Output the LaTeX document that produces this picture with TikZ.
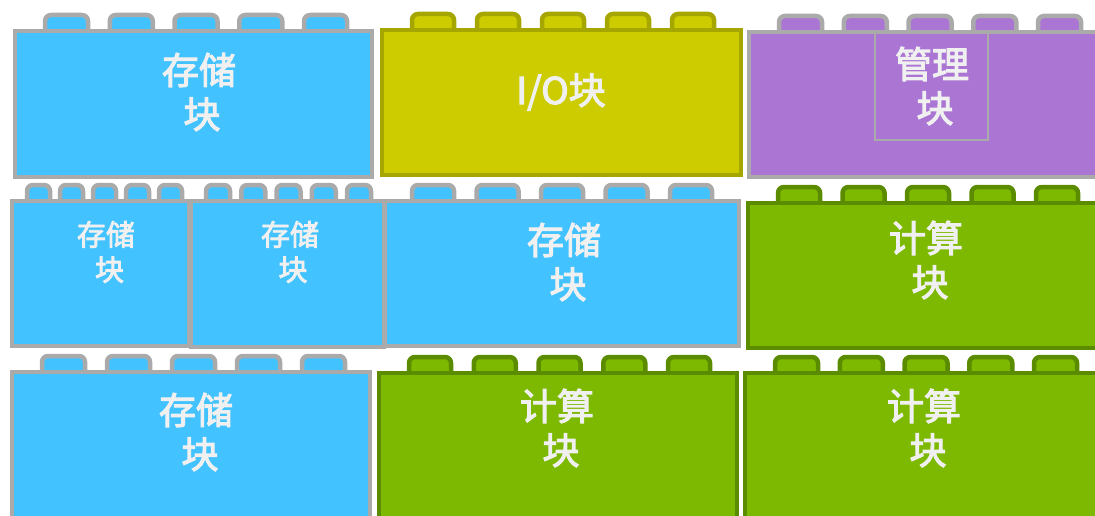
\documentclass[tikz,border=0pt]{standalone}
\usepackage{fontspec}
\setmainfont{Noto Sans CJK SC}
\newfontfamily\lblfont[FakeBold=3]{Noto Sans CJK SC}
\definecolor{sblue}{HTML}{42C3FF}
\definecolor{sgray}{HTML}{AAAAAA}
\definecolor{yfill}{HTML}{CCCC00}
\definecolor{yborder}{HTML}{A6A600}
\definecolor{pfill}{HTML}{AB75D4}
\definecolor{gfill}{HTML}{7DB900}
\definecolor{gborder}{HTML}{5B8C00}
\definecolor{txtc}{HTML}{F0F0F0}
\newcommand\brick[9]{%
  \foreach \i in {0,...,4} {%
    \pgfmathsetmacro\sx{#5+\i*#6}%
    \draw[line width=4.5, fill=#8, draw=#9, rounded corners=6] (\sx+2, #2+4) -- (\sx+2, #2-14) -- (\sx+#7-2, #2-14) -- (\sx+#7-2, #2+4);
  }%
  \draw[line width=4.5, fill=#8, draw=#9] (#1+2,#2+2) rectangle (#3-2,#4-2);
}
\tikzset{
  lbl/.style={text=txtc, font=\lblfont\fontsize{37}{44}\selectfont, align=center, inner sep=0pt},
  slbl/.style={text=txtc, font=\lblfont\fontsize{29}{35}\selectfont, align=center, inner sep=0pt}
}
\begin{document}
\begin{tikzpicture}[x=1pt,y=-1pt]
\useasboundingbox (0,0) rectangle (1095,516);
\clip (0,0) rectangle (1095,516);
% row 1
\brick{13}{29}{374}{179}{43}{64.75}{47}{sblue}{sgray}
\brick{380}{28}{743}{177}{410}{65}{46}{yfill}{yborder}
\brick{747}{30}{1105}{179}{777}{64.75}{47}{pfill}{sgray}
\draw[line width=2, draw=sgray] (875,31) rectangle (988,140);
% row 2
\brick{10}{199}{191}{348}{25}{33}{27}{sblue}{sgray}
\brick{189}{199}{386}{349}{204}{35.25}{28}{sblue}{sgray}
\brick{383}{199}{741}{348}{410}{64.5}{46}{sblue}{sgray}
\brick{746}{201}{1105}{350}{776}{64.5}{46}{gfill}{gborder}
% row 3
\brick{10}{370}{372}{530}{40}{65}{47}{sblue}{sgray}
\brick{377}{371}{739}{530}{407}{64.75}{46}{gfill}{gborder}
\brick{743}{371}{1105}{530}{773}{64.75}{47}{gfill}{gborder}
% labels
\node[lbl] (t1) at (199,92) {存储\\\hspace*{6pt}块};
\node[lbl] (t2) at (561,92) {I/O块};
\node[lbl] (t3) at (932,86) {管理\\\hspace*{6pt}块};
\node[slbl] (t4) at (106,252) {存储\\\hspace*{7pt}块};
\node[slbl] (t5) at (290,252) {存储\\\hspace*{6pt}块};
\node[lbl] (t6) at (564,262) {存储\\\hspace*{8pt}块};
\node[lbl] (t7) at (926,260) {计算\\\hspace*{8pt}块};
\node[lbl] (t8) at (196,432) {存储\\\hspace*{8pt}块};
\node[lbl] (t9) at (557,428) {计算\\\hspace*{8pt}块};
\node[lbl] (t10) at (924,428) {计算\\\hspace*{8pt}块};
\end{tikzpicture}
\end{document}
